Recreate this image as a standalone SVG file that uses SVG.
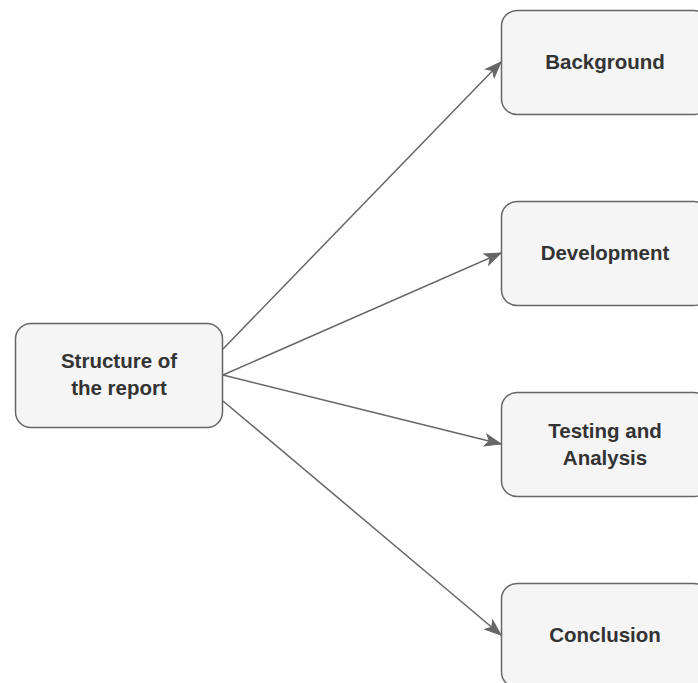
<svg xmlns="http://www.w3.org/2000/svg" width="698" height="683" viewBox="0 0 698 683">
<style>
.box{fill:#f5f5f5;stroke:#666666;stroke-width:1.5}
.lbl{font-family:"Liberation Sans",Arial,sans-serif;font-size:20.5px;font-weight:bold;fill:#333333;text-anchor:middle}
.edge{fill:none;stroke:#666666;stroke-width:1.5}
</style>
<defs>
<marker id="arr" markerUnits="userSpaceOnUse" markerWidth="18" markerHeight="14" viewBox="0 0 18 14" refX="17" refY="7" orient="auto">
<path d="M17,7 L1,1 L5,7 L1,13 Z" fill="#666666" stroke="#666666" stroke-width="1"/>
</marker>
</defs>
<rect width="698" height="683" fill="#ffffff"/>
<g id="edges">
<line class="edge" x1="223" y1="349" x2="501" y2="62" marker-end="url(#arr)"/>
<line class="edge" x1="223" y1="375" x2="501" y2="253" marker-end="url(#arr)"/>
<line class="edge" x1="223" y1="375" x2="501" y2="444" marker-end="url(#arr)"/>
<line class="edge" x1="223" y1="401" x2="501" y2="635" marker-end="url(#arr)"/>
</g>
<g id="structure">
<rect class="box" x="15.5" y="323.5" width="207" height="104" rx="15.5"/>
<text class="lbl" x="119" y="368">Structure of</text>
<text class="lbl" x="119" y="395">the report</text>
</g>
<g id="background">
<rect class="box" x="501.5" y="10.5" width="208" height="104" rx="15.5"/>
<text class="lbl" x="605" y="69">Background</text>
</g>
<g id="development">
<rect class="box" x="501.5" y="201.5" width="208" height="104" rx="15.5"/>
<text class="lbl" x="605" y="260">Development</text>
</g>
<g id="testing">
<rect class="box" x="501.5" y="392.5" width="208" height="104" rx="15.5"/>
<text class="lbl" x="605" y="438">Testing and</text>
<text class="lbl" x="605" y="465">Analysis</text>
</g>
<g id="conclusion">
<rect class="box" x="501.5" y="583.5" width="208" height="104" rx="15.5"/>
<text class="lbl" x="605" y="642">Conclusion</text>
</g>
</svg>
